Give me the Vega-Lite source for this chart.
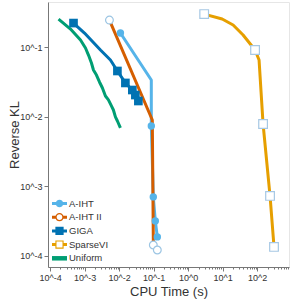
{
  "$schema": "https://vega.github.io/schema/vega-lite/v6.json",
  "width": 241,
  "height": 265,
  "autosize": {"type": "none"},
  "padding": {"left": 48, "top": 2, "right": 10, "bottom": 32},
  "background": "white",
  "config": {
    "font": "Liberation Sans",
    "view": {"stroke": "#e6e6e6", "strokeWidth": 1},
    "axis": {"grid": false, "domainColor": "#777", "tickColor": "#777", "labelColor": "#333", "titleColor": "#333", "labelFontSize": 9, "titleFontSize": 13, "titleFontWeight": "normal", "labelPadding": 2},
    "legend": {"orient": "bottom-left", "offset": 4, "padding": 0, "symbolSize": 225, "symbolStrokeWidth": 0, "labelFontSize": 9.5, "labelColor": "#333", "rowPadding": 1.7, "labelOffset": 2}
  },
  "data": {"values": [
    {"s": "Uniform", "i": 0, "x": 0.0001762, "y": 0.2523, "lo": 0.23, "hi": 0.28, "m": 0},
    {"s": "Uniform", "i": 1, "x": 0.0003908, "y": 0.1811, "lo": 0.165, "hi": 0.2, "m": 0},
    {"s": "Uniform", "i": 2, "x": 0.000762, "y": 0.1259, "lo": 0.112, "hi": 0.142, "m": 0},
    {"s": "Uniform", "i": 3, "x": 0.001062, "y": 0.0968, "lo": 0.085, "hi": 0.11, "m": 0},
    {"s": "Uniform", "i": 4, "x": 0.001297, "y": 0.0767, "lo": 0.066, "hi": 0.09, "m": 0},
    {"s": "Uniform", "i": 5, "x": 0.001581, "y": 0.0589, "lo": 0.05, "hi": 0.07, "m": 0},
    {"s": "Uniform", "i": 6, "x": 0.001807, "y": 0.0468, "lo": 0.04, "hi": 0.056, "m": 0},
    {"s": "Uniform", "i": 7, "x": 0.002208, "y": 0.0396, "lo": 0.034, "hi": 0.047, "m": 0},
    {"s": "Uniform", "i": 8, "x": 0.002698, "y": 0.0315, "lo": 0.027, "hi": 0.037, "m": 0},
    {"s": "Uniform", "i": 9, "x": 0.003289, "y": 0.0258, "lo": 0.022, "hi": 0.031, "m": 0},
    {"s": "Uniform", "i": 10, "x": 0.004018, "y": 0.0198, "lo": 0.017, "hi": 0.024, "m": 0},
    {"s": "Uniform", "i": 11, "x": 0.004909, "y": 0.0174, "lo": 0.0148, "hi": 0.021, "m": 0},
    {"s": "Uniform", "i": 12, "x": 0.005984, "y": 0.01426, "lo": 0.012, "hi": 0.017, "m": 0},
    {"s": "Uniform", "i": 13, "x": 0.006839, "y": 0.01247, "lo": 0.0105, "hi": 0.015, "m": 0},
    {"s": "Uniform", "i": 14, "x": 0.007816, "y": 0.00991, "lo": 0.0083, "hi": 0.0118, "m": 0},
    {"s": "Uniform", "i": 15, "x": 0.00893, "y": 0.00867, "lo": 0.0073, "hi": 0.0102, "m": 0},
    {"s": "Uniform", "i": 16, "x": 0.01091, "y": 0.00689, "lo": 0.0059, "hi": 0.008, "m": 0},
    {"s": "GIGA", "i": 0, "x": 0.0004775, "y": 0.2208, "m": 1},
    {"s": "GIGA", "i": 1, "x": 0.000993, "y": 0.1589, "m": 0},
    {"s": "GIGA", "i": 2, "x": 0.002884, "y": 0.0906, "m": 0},
    {"s": "GIGA", "i": 3, "x": 0.00561, "y": 0.065, "m": 0},
    {"s": "GIGA", "i": 4, "x": 0.00893, "y": 0.0453, "m": 1},
    {"s": "GIGA", "i": 5, "x": 0.01521, "y": 0.0305, "m": 1},
    {"s": "GIGA", "i": 6, "x": 0.02421, "y": 0.02415, "m": 1},
    {"s": "GIGA", "i": 7, "x": 0.02958, "y": 0.02046, "m": 1},
    {"s": "GIGA", "i": 8, "x": 0.03614, "y": 0.01679, "m": 1},
    {"s": "A-IHT", "i": 0, "x": 0.01091, "y": 0.1589, "lo": 0.13, "hi": 0.24, "m": 1},
    {"s": "A-IHT", "i": 1, "x": 0.0857, "y": 0.03365, "lo": 0.028, "hi": 0.05, "m": 0},
    {"s": "A-IHT", "i": 2, "x": 0.0857, "y": 0.00736, "m": 1},
    {"s": "A-IHT", "i": 3, "x": 0.0916, "y": 0.00239, "m": 0},
    {"s": "A-IHT", "i": 4, "x": 0.0979, "y": 0.000705, "m": 1},
    {"s": "A-IHT", "i": 5, "x": 0.1119, "y": 0.000319, "m": 1},
    {"s": "A-IHT", "i": 6, "x": 0.128, "y": 0.000188, "m": 1},
    {"s": "A-IHT II", "i": 0, "x": 0.00525, "y": 0.2438, "lo": 0.225, "hi": 0.265, "m": 1},
    {"s": "A-IHT II", "i": 1, "x": 0.0916, "y": 0.00897, "lo": 0.0082, "hi": 0.0098, "m": 0},
    {"s": "A-IHT II", "i": 2, "x": 0.0979, "y": 0.00017, "m": 0},
    {"s": "A-IHT II", "i": 3, "x": 0.0979, "y": 0.000144, "m": 1},
    {"s": "A-IHT II", "i": 4, "x": 0.128, "y": 0.000122, "m": 1},
    {"s": "SparseVI", "i": 0, "x": 2.917, "y": 0.2972, "m": 1},
    {"s": "SparseVI", "i": 1, "x": 9.68, "y": 0.2523, "m": 0},
    {"s": "SparseVI", "i": 2, "x": 20.1, "y": 0.207, "m": 0},
    {"s": "SparseVI", "i": 3, "x": 39.1, "y": 0.1486, "m": 0},
    {"s": "SparseVI", "i": 4, "x": 86.9, "y": 0.0906, "m": 1},
    {"s": "SparseVI", "i": 5, "x": 113.5, "y": 0.065, "m": 0},
    {"s": "SparseVI", "i": 6, "x": 148.3, "y": 0.00785, "m": 1},
    {"s": "SparseVI", "i": 7, "x": 236, "y": 0.000728, "m": 1},
    {"s": "SparseVI", "i": 8, "x": 307.6, "y": 0.000135, "m": 1}
  ]},
  "encoding": {
    "x": {"field": "x", "type": "quantitative",
      "scale": {"type": "log", "domain": [0.0000871, 836], "nice": false},
      "axis": {"title": "CPU Time (s)", "titlePadding": 3,
        "values": [0.0001,0.0002,0.0003,0.0004,0.0005,0.0006,0.0007,0.0008,0.0009,0.001,0.002,0.003,0.004,0.005,0.006,0.007,0.008,0.009,0.01,0.02,0.03,0.04,0.05,0.06,0.07,0.08,0.09,0.1,0.2,0.3,0.4,0.5,0.6,0.7,0.8,0.9,1,2,3,4,5,6,7,8,9,10,20,30,40,50,60,70,80,90,100,200,300,400,500,600,700,800],
        "labelExpr": "abs(log(datum.value)/LN10 - round(log(datum.value)/LN10)) < 0.01 ? '10^' + round(log(datum.value)/LN10) : ''",
        "tickSize": {"condition": {"test": "abs(log(datum.value)/LN10 - round(log(datum.value)/LN10)) < 0.01", "value": 4}, "value": 2}
      }},
    "y": {"field": "y", "type": "quantitative",
      "scale": {"type": "log", "domain": [0.0000695, 0.443], "nice": false},
      "axis": {"title": "Reverse KL", "titleX": -34, "titleBaseline": "middle", "values": [0.0001, 0.001, 0.01, 0.1], "tickSize": 4,
        "labelExpr": "'10^' + round(log(datum.value)/LN10)"}}
  },
  "layer": [
    {
      "transform": [{"filter": "datum.m == 1"}],
      "mark": {"type": "point", "filled": true, "opacity": 1, "size": 0},
      "encoding": {
        "color": {"field": "s", "type": "nominal", "title": null,
          "scale": {"domain": ["A-IHT", "A-IHT II", "GIGA", "SparseVI", "Uniform"], "range": ["#56B4E9", "#D55E00", "#0072B2", "#E69F00", "#009E73"]}},
        "shape": {"field": "s", "type": "nominal", "title": null,
          "scale": {"domain": ["A-IHT", "A-IHT II", "GIGA", "SparseVI", "Uniform"],
            "range": [
              "M-1,-0.2H1V0.2H-1Z M0.5,0A0.5,0.5 0 1,1 -0.5,0A0.5,0.5 0 1,1 0.5,0Z",
              "M-1,-0.2H-0.45V0.2H-1Z M0.45,-0.2H1V0.2H0.45Z M0.55,0A0.55,0.55 0 1,1 -0.55,0A0.55,0.55 0 1,1 0.55,0Z M0.38,0A0.38,0.38 0 1,0 -0.38,0A0.38,0.38 0 1,0 0.38,0Z",
              "M-1,-0.2H1V0.2H-1Z M-0.55,-0.55H0.55V0.55H-0.55Z",
              "M-1,-0.2H-0.5V0.2H-1Z M0.5,-0.2H1V0.2H0.5Z M-0.55,-0.55H0.55V0.55H-0.55Z M-0.4,-0.4V0.4H0.4V-0.4Z",
              "M-1,-0.3H1V0.3H-1Z"
            ]}}
      }
    },
    {
      "transform": [{"filter": "isValid(datum.lo)"}],
      "mark": {"type": "area", "opacity": 0.3},
      "encoding": {
        "y": {"field": "lo", "type": "quantitative"},
        "y2": {"field": "hi"},
        "order": {"field": "i"},
        "fill": {"field": "s", "type": "nominal", "legend": null,
          "scale": {"domain": ["Uniform", "A-IHT", "A-IHT II", "GIGA", "SparseVI"], "range": ["#009E73", "#56B4E9", "#D55E00", "#0072B2", "#E69F00"]}}
      }
    },
    {
      "mark": {"type": "line", "strokeWidth": 3, "strokeJoin": "round"},
      "encoding": {
        "order": {"field": "i"},
        "stroke": {"field": "s", "type": "nominal", "legend": null,
          "scale": {"domain": ["SparseVI", "Uniform", "GIGA", "A-IHT", "A-IHT II"], "range": ["#E69F00", "#009E73", "#0072B2", "#56B4E9", "#D55E00"]}}
      }
    },
    {
      "transform": [{"filter": "datum.s == 'GIGA' && datum.m == 1"}],
      "mark": {"type": "point", "shape": "square", "filled": true, "opacity": 1, "color": "#0072B2", "size": 75}
    },
    {
      "transform": [{"filter": "datum.s == 'A-IHT' && datum.m == 1"}],
      "mark": {"type": "point", "shape": "circle", "filled": true, "opacity": 1, "color": "#56B4E9", "size": 55}
    },
    {
      "transform": [{"filter": "datum.s == 'A-IHT II' && datum.m == 1"}],
      "mark": {"type": "point", "shape": "circle", "filled": false, "opacity": 1, "fill": "white", "fillOpacity": 1, "stroke": "#9cc5e3", "strokeWidth": 1.2, "size": 60}
    },
    {
      "transform": [{"filter": "datum.s == 'SparseVI' && datum.m == 1"}],
      "mark": {"type": "point", "shape": "square", "filled": false, "opacity": 1, "fill": "white", "fillOpacity": 1, "stroke": "#a6c8e4", "strokeWidth": 1.2, "size": 75}
    }
  ]
}
